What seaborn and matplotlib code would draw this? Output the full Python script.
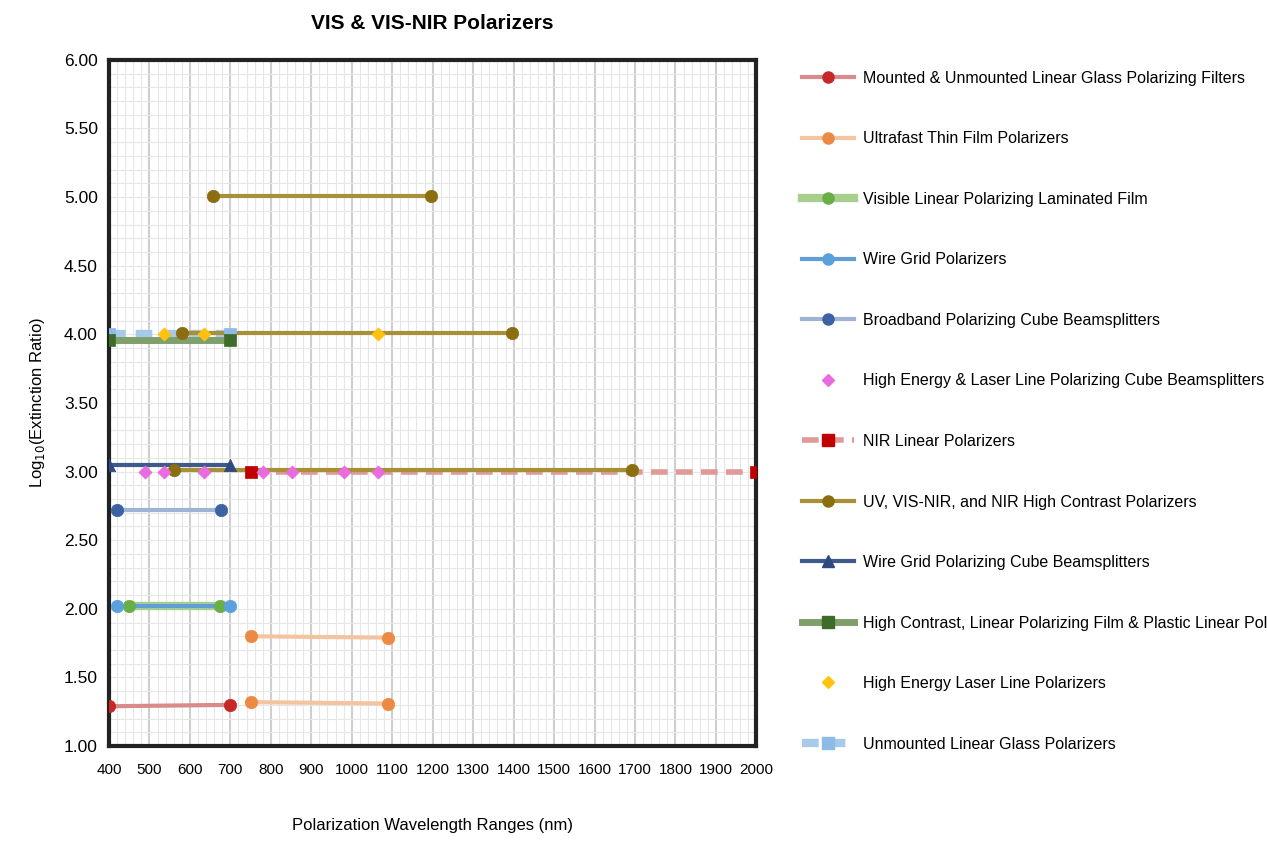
import matplotlib
matplotlib.use("Agg")
import matplotlib.pyplot as plt
import seaborn as sns
import pandas as pd
from matplotlib.ticker import MultipleLocator
from matplotlib.lines import Line2D

plt.rcParams["font.family"] = "Liberation Sans"

# ---- data ----
series_names = [
    "Mounted & Unmounted Linear Glass Polarizing Filters",
    "Ultrafast Thin Film Polarizers",
    "Visible Linear Polarizing Laminated Film",
    "Wire Grid Polarizers",
    "Broadband Polarizing Cube Beamsplitters",
    "High Energy & Laser Line Polarizing Cube Beamsplitters",
    "NIR Linear Polarizers",
    "UV, VIS-NIR, and NIR High Contrast Polarizers",
    "Wire Grid Polarizing Cube Beamsplitters",
    "High Contrast, Linear Polarizing Film & Plastic Linear Polarizers",
    "High Energy Laser Line Polarizers",
    "Unmounted Linear Glass Polarizers",
]
mounted_x = [[400, 700]];            mounted_y = [[1.29, 1.30]]
ultrafast_x = [[750, 1090], [750, 1090]]; ultrafast_y = [[1.80, 1.79], [1.32, 1.31]]
laminated_x = [[450, 675]];          laminated_y = [[2.02, 2.02]]
wiregrid_x = [[420, 700]];           wiregrid_y = [[2.02, 2.02]]
broadband_x = [[420, 678]];          broadband_y = [[2.72, 2.72]]
helpcb_x = [[490, 535, 635, 780, 852, 980, 1065]]; helpcb_y = [[3.00] * 7]
nir_x = [[752, 2000]];               nir_y = [[3.00, 3.00]]
uv_x = [[658, 1195], [580, 1397], [560, 1693]]; uv_y = [[5.01, 5.01], [4.01, 4.01], [3.01, 3.01]]
wgcube_x = [[400, 700]];             wgcube_y = [[3.05, 3.05]]
film_x = [[400, 700]];               film_y = [[3.96, 3.96]]
hell_x = [[535, 635, 1065]];         hell_y = [[4.00, 4.00, 4.00]]
unmounted_x = [[400, 700]];          unmounted_y = [[4.00, 4.00]]

xs = [mounted_x, ultrafast_x, laminated_x, wiregrid_x, broadband_x, helpcb_x,
      nir_x, uv_x, wgcube_x, film_x, hell_x, unmounted_x]
ys = [mounted_y, ultrafast_y, laminated_y, wiregrid_y, broadband_y, helpcb_y,
      nir_y, uv_y, wgcube_y, film_y, hell_y, unmounted_y]

styles = [
    ("#d98a8a", "#c62828", "o", 3, "-", True),
    ("#f4c4a0", "#ec8a43", "o", 3, "-", True),
    ("#a9cf8f", "#6aae48", "o", 6, "-", True),
    ("#5f9fd6", "#5aa0dc", "o", 3, "-", True),
    ("#9fb3d6", "#3d62a3", "o", 3, "-", True),
    ("#e96be0", "#e96be0", "D", 0, "-", False),
    ("#df9a98", "#c00000", "s", 4, (0, (3, 1.5)), True),
    ("#a89036", "#8a6e0f", "o", 3, "-", True),
    ("#3d5a8a", "#2e4a80", "^", 3, "-", True),
    ("#7fa06a", "#3e6b2a", "s", 5, "-", True),
    ("#ffc20e", "#ffc20e", "D", 0, "-", False),
    ("#a7c9ea", "#8ebbe6", "s", 6, (0, (2, 1.2)), True),
]
draw_order = [11, 9, 2, 3, 0, 1, 4, 6, 7, 8, 5, 10]

fig = plt.figure(figsize=(12.67, 8.43), dpi=100)
ax = fig.add_axes([0.086, 0.115, 0.511, 0.814])

handles = {}
for i in draw_order:
    lc, mc, mk, lw, ls, dl = styles[i]
    for sx, sy in zip(xs[i], ys[i]):
        df = pd.DataFrame({"x": sx, "y": sy})
        if dl:
            sns.lineplot(data=df, x="x", y="y", ax=ax, color=lc, lw=lw, ls=ls,
                         sort=False, estimator=None, zorder=2)
            ends = df.iloc[[0, -1]]
        else:
            ends = df
        sns.scatterplot(data=ends, x="x", y="y", ax=ax, color=mc, marker=mk,
                        s=80 if mk != "D" else 45, edgecolor=mc, linewidth=0.5, zorder=3)
    handles[i] = Line2D([], [], color=lc, lw=(lw if dl else 0), ls=ls, marker=mk,
                        markerfacecolor=mc, markeredgecolor=mc,
                        markersize=8 if mk != "D" else 6)

ax.set_xlim(400, 2000)
ax.set_ylim(1.0, 6.0)
ax.xaxis.set_major_locator(MultipleLocator(100))
ax.xaxis.set_minor_locator(MultipleLocator(20))
ax.yaxis.set_major_locator(MultipleLocator(0.5))
ax.yaxis.set_minor_locator(MultipleLocator(0.1))
ax.grid(which="major", axis="x", color="#cfcfcf", lw=1.5)
ax.grid(which="minor", axis="x", color="#e6e6e6", lw=0.8)
ax.grid(which="both", axis="y", color="#e6e6e6", lw=0.8)
ax.set_axisbelow(True)
ax.yaxis.set_major_formatter(plt.FuncFormatter(lambda v, p: f"{v:.2f}"))
ax.tick_params(axis="y", which="major", labelsize=12.5, length=0, pad=8)
ax.tick_params(axis="x", which="major", labelsize=11, length=0, pad=12)
ax.tick_params(which="minor", length=0)
for s in ax.spines.values():
    s.set_linewidth(3)
    s.set_color("#222222")
ax.set_xlabel("Polarization Wavelength Ranges (nm)", fontsize=12, labelpad=30)
ax.set_ylabel("Log$_{10}$(Extinction Ratio)", fontsize=12, labelpad=12)
ax.set_title("VIS & VIS-NIR Polarizers", fontsize=15, fontweight="bold", pad=22)

fig.legend([handles[i] for i in range(12)], series_names, loc="upper left",
           bbox_to_anchor=(0.622, 0.933), frameon=False, fontsize=11.5,
           labelspacing=2.85, handlelength=3.2, handletextpad=0.6)

fig.savefig("out.png", dpi=100)
